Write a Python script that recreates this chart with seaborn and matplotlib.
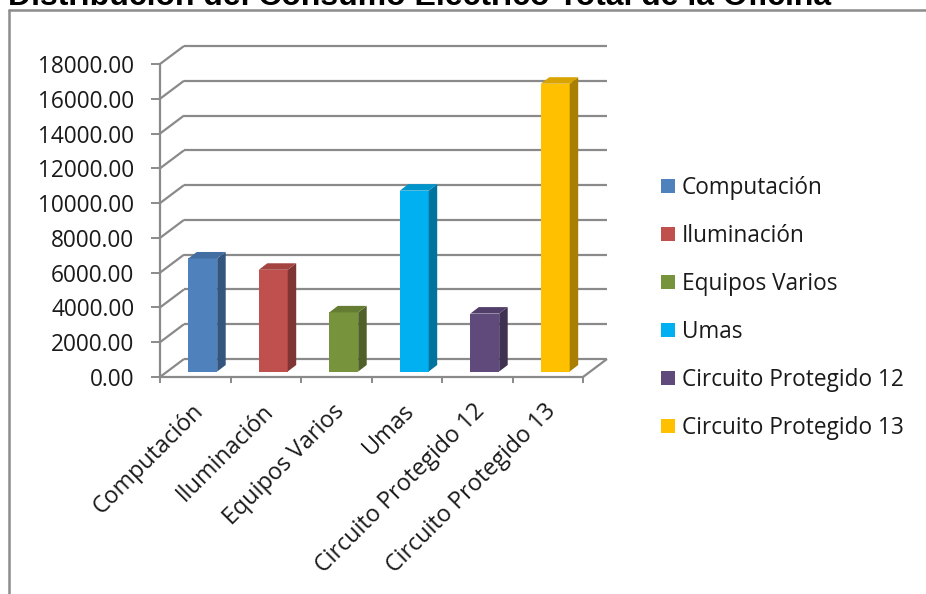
import numpy as np
import pandas as pd
import matplotlib
matplotlib.use("Agg")
import matplotlib.pyplot as plt
import matplotlib.colors as mcolors
import seaborn as sns
from matplotlib.patches import Polygon, Patch
from matplotlib.lines import Line2D
from matplotlib.transforms import ScaledTranslation

# ---- data -------------------------------------------------------------
title = "Distribución del Consumo Eléctrico Total de la Oficina"
categories = ["Computación", "Iluminación", "Equipos Varios", "Umas",
              "Circuito Protegido 12", "Circuito Protegido 13"]
consumo = [6500, 5850, 3400, 10400, 3330, 16550]
colors = ["#4F81BD", "#C0504D", "#77933C", "#00B0F0", "#604A7B", "#FFC000"]
y_ticks = [0, 2000, 4000, 6000, 8000, 10000, 12000, 14000, 16000, 18000]

# ---- figure / layout ----------------------------------------------------
W, H, DPI = 926, 594, 100
sns.set_theme(style="white")
plt.rcParams["font.family"] = ["Open Sans", "DejaVu Sans"]

GRID = "#8A8A8A"
TXT = "#1A1A1A"

fig = plt.figure(figsize=(W / DPI, H / DPI), dpi=DPI)
fig.patch.set_facecolor("white")

# front plane of the 3-D box, in pixels
x_left, x_right = 160, 583
y_top, y_bot = 64, 377
ax = fig.add_axes([x_left / W, 1 - y_bot / H,
                   (x_right - x_left) / W, (y_bot - y_top) / H])
ax.set_facecolor("none")

df = pd.DataFrame({"categoria": categories, "consumo": consumo})
sns.barplot(data=df, x="categoria", y="consumo", hue="categoria",
            palette=colors, width=0.41, saturation=1, legend=False,
            linewidth=0, ax=ax, zorder=3)

n = len(categories)
ax.set_xlim(-0.5, n - 0.5)
ax.set_ylim(y_ticks[0], y_ticks[-1])

# pixel -> data conversion for the oblique depth offsets
px_per_cat = (x_right - x_left) / n
px_per_val = (y_bot - y_top) / (y_ticks[-1] - y_ticks[0])


def offset(dx_px, dy_up_px):
    return dx_px / px_per_cat, dy_up_px / px_per_val


box_dx, box_dy = offset(24, 18)      # full depth of the floor / walls
bar_fx, bar_fy = offset(7.5, 5.5)    # bars sit slightly inside the box
bar_dx, bar_dy = offset(8.5, 6.5)    # depth of each column

line_kw = dict(color=GRID, lw=1.6, clip_on=False, zorder=1,
               solid_capstyle="butt")
x0, x1 = -0.5, n - 0.5
for v in y_ticks:
    # back wall gridline
    ax.plot([x0 + box_dx, x1 + box_dx], [v + box_dy, v + box_dy], **line_kw)
    # side wall diagonal
    ax.plot([x0, x0 + box_dx], [v, v + box_dy], **line_kw)
# right edge of the floor
ax.plot([x1, x1 + box_dx], [0, box_dy], **line_kw)


def shade(c, f):
    r, g, b = mcolors.to_rgb(c)
    return (r * f, g * f, b * f)


bars = sorted(ax.patches, key=lambda p: p.get_x())
for bar, col in zip(bars, colors):
    bx = bar.get_x() + bar_fx
    bw = bar.get_width()
    bh = bar.get_height()
    bar.set_x(bx)
    bar.set_y(bar_fy)
    bar.set_clip_on(False)
    top = bar_fy + bh
    side = Polygon([(bx + bw, bar_fy), (bx + bw, top),
                    (bx + bw + bar_dx, top + bar_dy),
                    (bx + bw + bar_dx, bar_fy + bar_dy)],
                   closed=True, facecolor=shade(col, 0.66), lw=0,
                   clip_on=False, zorder=3)
    cap = Polygon([(bx, top), (bx + bw, top),
                   (bx + bw + bar_dx, top + bar_dy),
                   (bx + bar_dx, top + bar_dy)],
                  closed=True, facecolor=shade(col, 0.85), lw=0,
                  clip_on=False, zorder=3)
    ax.add_patch(side)
    ax.add_patch(cap)

# axes lines and ticks
for s in ["top", "right"]:
    ax.spines[s].set_visible(False)
for s in ["left", "bottom"]:
    ax.spines[s].set_visible(True)
    ax.spines[s].set_color(GRID)
    ax.spines[s].set_linewidth(1.6)
    ax.spines[s].set_zorder(2)

ax.set_yticks(y_ticks)
ax.set_yticklabels([f"{v:.2f}" for v in y_ticks])
ax.set_xticks(np.arange(n))
ax.set_xticks(np.arange(n + 1) - 0.5, minor=True)
ax.set_xticklabels(categories, rotation=45, ha="right",
                   rotation_mode="anchor")
ax.tick_params(axis="y", which="major", direction="out", length=6.5,
               width=1.4, color=GRID, pad=12, labelsize=16.3,
               labelcolor=TXT, left=True)
ax.tick_params(axis="x", which="major", length=0, pad=16,
               labelsize=16.8, labelcolor=TXT, bottom=True)
ax.tick_params(axis="x", which="minor", direction="out", length=4.5,
               width=1.4, color=GRID, bottom=True)
ax.set_xlabel("")
ax.set_ylabel("")
for lab in ax.get_xticklabels():
    lab.set_transform(lab.get_transform()
                      + ScaledTranslation(-4 / DPI, 0, fig.dpi_scale_trans))

# legend
handles = [Patch(facecolor=c, edgecolor="none", label=l)
           for c, l in zip(colors, categories)]
leg_fs = 16.3
fs_px = leg_fs * DPI / 72
ax.legend(handles=handles, loc="upper left",
          bbox_to_anchor=(661 / W, 1 - 176 / H),
          bbox_transform=fig.transFigure, frameon=False, fontsize=leg_fs,
          handlelength=14 / fs_px, handleheight=14 / fs_px,
          handletextpad=7 / fs_px, labelspacing=1.06, borderpad=0,
          borderaxespad=0, labelcolor=TXT)

# chart frame (extends past the right and bottom edges)
fig.add_artist(Line2D([9 / W, 1.01], [1 - 10 / H, 1 - 10 / H],
                      transform=fig.transFigure, color="#8C8C8C", lw=1.8))
fig.add_artist(Line2D([9 / W, 9 / W], [1 - 10 / H, -0.01],
                      transform=fig.transFigure, color="#8C8C8C", lw=1.8))

# title, partly above the top edge
t = fig.text(8 / W, 1 - 5 / H, title, family=["Liberation Sans", "DejaVu Sans"],
             fontweight="bold", fontsize=20, ha="left", va="baseline",
             color="black")
fig.canvas.draw()
tw = t.get_window_extent().width
t.set_fontsize(20 * 824 / tw)

fig.savefig("out.png", dpi=DPI)
